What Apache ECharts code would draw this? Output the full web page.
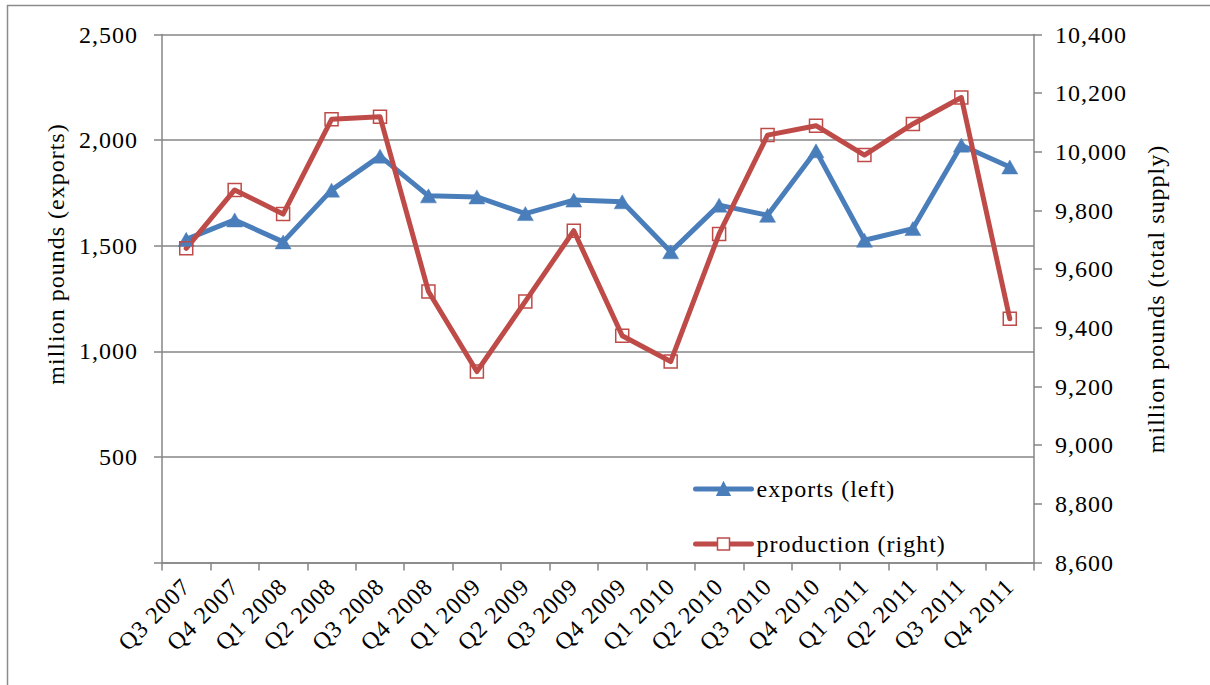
<!DOCTYPE html>
<html>
<head>
<meta charset="utf-8">
<script src="https://cdn.jsdelivr.net/npm/echarts@6/dist/echarts.min.js"></script>
<style>
  html, body { margin: 0; padding: 0; background: #fff; }
  #main { width: 1210px; height: 685px; }
  #main text { letter-spacing: 1px; }
</style>
</head>
<body>
<div id="main"></div>
<script>
// Quarterly periods on the category axis
const categories = [
  'Q3 2007', 'Q4 2007', 'Q1 2008', 'Q2 2008', 'Q3 2008', 'Q4 2008',
  'Q1 2009', 'Q2 2009', 'Q3 2009', 'Q4 2009', 'Q1 2010', 'Q2 2010',
  'Q3 2010', 'Q4 2010', 'Q1 2011', 'Q2 2011', 'Q3 2011', 'Q4 2011'
];

// Exports, million pounds (left axis)
const exportsLeft = [
  1530, 1622, 1518, 1763, 1924, 1736,
  1731, 1652, 1716, 1708, 1471, 1692,
  1644, 1949, 1526, 1581, 1976, 1873
];

// Production / total supply, million pounds (right axis)
const productionRight = [
  9671, 9870, 9788, 10111, 10120, 9524,
  9251, 9490, 9731, 9373, 9285, 9720,
  10057, 10089, 9989, 10095, 10185, 9431
];

// Axis ranges and steps
const leftAxisRange = [0, 2500, 500];
const rightAxisRange = [8600, 10400, 200];

const seriesNames = ['exports (left)', 'production (right)'];
const axisTitles = ['million pounds (exports)', 'million pounds (total supply)'];

const FONT = '"Liberation Serif", "Times New Roman", serif';
const FS = 24;
const GRAY = '#868686';
const BLUE = '#4A7EBB';
const RED = '#BE4B48';

const fmt = v => v.toLocaleString('en-US');

const chart = echarts.init(document.getElementById('main'), null, { renderer: 'svg' });

chart.setOption({
  animation: false,
  backgroundColor: '#fff',
  textStyle: { fontFamily: FONT, color: '#000' },
  grid: { left: 162, right: 176, top: 34.5, bottom: 122.5, containLabel: false },
  graphic: [
    {
      type: 'polyline',
      shape: { points: [[7.5, 800], [7.5, 5.5], [1300, 5.5]] },
      style: { stroke: '#8c8c8c', lineWidth: 1.5, fill: null },
      silent: true
    },
    {
      type: 'text',
      x: 56, y: 254, rotation: Math.PI / 2,
      style: {
        text: axisTitles[0], fontFamily: FONT, fontSize: FS, fill: '#000',
        textAlign: 'center', textVerticalAlign: 'middle'
      }
    },
    {
      type: 'text',
      x: 1156, y: 299, rotation: Math.PI / 2,
      style: {
        text: axisTitles[1], fontFamily: FONT, fontSize: FS, fill: '#000',
        textAlign: 'center', textVerticalAlign: 'middle'
      }
    }
  ],
  legend: {
    orient: 'vertical',
    left: 688,
    top: 472,
    itemWidth: 56,
    itemHeight: 15,
    itemGap: 31,
    lineStyle: { width: 5, cap: 'round' },
    textStyle: { fontFamily: FONT, fontSize: FS, color: '#000', lineHeight: 24 },
    data: [
      { name: seriesNames[0] },
      { name: seriesNames[1], itemStyle: { color: '#fff', borderColor: RED, borderWidth: 1.5 } }
    ]
  },
  xAxis: {
    type: 'category',
    data: categories,
    boundaryGap: true,
    axisLine: { lineStyle: { color: GRAY, width: 1.5 } },
    axisTick: { show: true, length: 8, lineStyle: { color: GRAY, width: 1.5 } },
    axisLabel: {
      rotate: 45, interval: 0, margin: 20,
      fontFamily: FONT, fontSize: FS, color: '#000'
    },
    splitLine: { show: false }
  },
  yAxis: [
    {
      type: 'value',
      position: 'left',
      min: leftAxisRange[0], max: leftAxisRange[1], interval: leftAxisRange[2],
      axisLine: { show: true, lineStyle: { color: GRAY, width: 1.5 } },
      axisTick: { show: true, length: 8, lineStyle: { color: GRAY, width: 1.5 } },
      axisLabel: {
        margin: 24, fontFamily: FONT, fontSize: FS, color: '#000',
        formatter: v => (v === 0 ? '' : fmt(v))
      },
      splitLine: { show: true, lineStyle: { color: GRAY, width: 1.5 } }
    },
    {
      type: 'value',
      position: 'right',
      min: rightAxisRange[0], max: rightAxisRange[1], interval: rightAxisRange[2],
      axisLine: { show: true, lineStyle: { color: GRAY, width: 1.5 } },
      axisTick: { show: true, length: 8, lineStyle: { color: GRAY, width: 1.5 } },
      axisLabel: {
        margin: 21, fontFamily: FONT, fontSize: FS, color: '#000',
        formatter: v => fmt(v)
      },
      splitLine: { show: false }
    }
  ],
  series: [
    {
      name: seriesNames[0],
      type: 'line',
      yAxisIndex: 0,
      data: exportsLeft,
      symbol: 'triangle',
      symbolSize: [16, 14],
      showAllSymbol: true,
      lineStyle: { color: BLUE, width: 5, cap: 'round', join: 'round' },
      itemStyle: { color: BLUE, borderColor: BLUE, borderWidth: 0.5 }
    },
    {
      name: seriesNames[1],
      type: 'line',
      yAxisIndex: 1,
      data: productionRight,
      symbol: 'rect',
      symbolSize: 13,
      showAllSymbol: true,
      lineStyle: { color: RED, width: 5, cap: 'round', join: 'round' },
      itemStyle: { color: 'rgba(255,255,255,0)', borderColor: RED, borderWidth: 1.5 }
    }
  ]
});
</script>
</body>
</html>
